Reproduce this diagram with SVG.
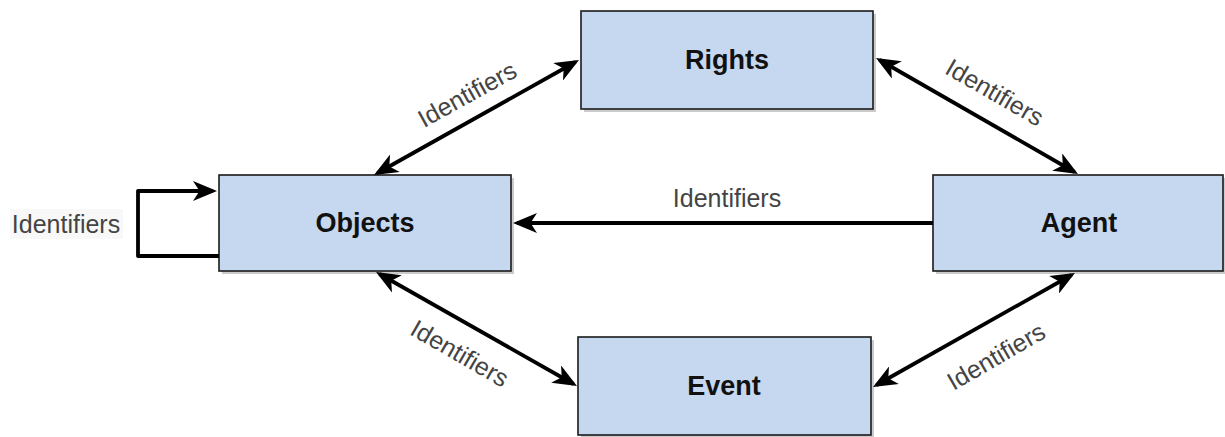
<svg xmlns="http://www.w3.org/2000/svg" width="1225" height="437" viewBox="0 0 1225 437">
  <style>
    .box { fill: #c6d8ef; stroke: #1a1a1a; stroke-width: 1.6; }
    .shadow { fill: #8c8c8c; opacity: 0.45; }
    .title { font-family: "Liberation Sans", Arial, sans-serif; font-weight: bold; font-size: 27px; fill: #111; text-anchor: middle; dominant-baseline: central; }
    .lbl { font-family: "Liberation Sans", Arial, sans-serif; font-size: 25px; fill: #444; text-anchor: middle; dominant-baseline: central; }
    .edge { fill: none; stroke: #000; stroke-width: 3.8; stroke-linejoin: round; }
  </style>
  <defs>
    <marker id="arrow" viewBox="0 0 24 20" refX="20" refY="10" markerWidth="24" markerHeight="20" markerUnits="userSpaceOnUse" orient="auto-start-reverse">
      <path d="M0,0 L24,10 L0,20 L6.5,10 z" fill="#000"/>
    </marker>
  </defs>

  <g id="rights">
    <rect class="shadow" x="584" y="14" width="292" height="98"/>
    <rect class="box" x="581" y="11" width="292" height="98"/>
    <text class="title" x="727" y="60">Rights</text>
  </g>

  <g id="objects">
    <rect class="shadow" x="222" y="178" width="292" height="96"/>
    <rect class="box" x="219" y="175" width="292" height="96"/>
    <text class="title" x="365" y="223">Objects</text>
  </g>

  <g id="agent">
    <rect class="shadow" x="936" y="178" width="292" height="96"/>
    <rect class="box" x="933" y="175" width="290" height="96"/>
    <text class="title" x="1079" y="223">Agent</text>
  </g>

  <g id="event">
    <rect class="shadow" x="581" y="340" width="293" height="98"/>
    <rect class="box" x="578" y="337" width="293" height="98"/>
    <text class="title" x="724" y="386">Event</text>
  </g>

  <g id="connectors">
    <!-- Objects <-> Rights -->
    <line class="edge" x1="377.5" y1="173" x2="575.5" y2="62" marker-start="url(#arrow)" marker-end="url(#arrow)"/>
    <text class="lbl" transform="translate(467,94) rotate(-29)">Identifiers</text>
    <!-- Rights <-> Agent -->
    <line class="edge" x1="879.5" y1="60" x2="1074.5" y2="172" marker-start="url(#arrow)" marker-end="url(#arrow)"/>
    <text class="lbl" transform="translate(995,92) rotate(30)">Identifiers</text>
    <!-- Objects <-> Event -->
    <line class="edge" x1="379.5" y1="274" x2="573.5" y2="384" marker-start="url(#arrow)" marker-end="url(#arrow)"/>
    <text class="lbl" transform="translate(460,353) rotate(30)">Identifiers</text>
    <!-- Event <-> Agent -->
    <line class="edge" x1="876.5" y1="385" x2="1071.5" y2="275" marker-start="url(#arrow)" marker-end="url(#arrow)"/>
    <text class="lbl" transform="translate(996,356) rotate(-30)">Identifiers</text>
    <!-- Agent -> Objects -->
    <line class="edge" x1="933" y1="223" x2="517" y2="223" marker-end="url(#arrow)"/>
    <text class="lbl" x="727" y="198">Identifiers</text>
    <!-- Objects self loop -->
    <path class="edge" d="M219,256 H138 V191 H213" marker-end="url(#arrow)"/>
    <rect x="10" y="209" width="113" height="30" fill="#f8f8f8"/>
    <text class="lbl" x="66" y="224">Identifiers</text>
  </g>
</svg>
